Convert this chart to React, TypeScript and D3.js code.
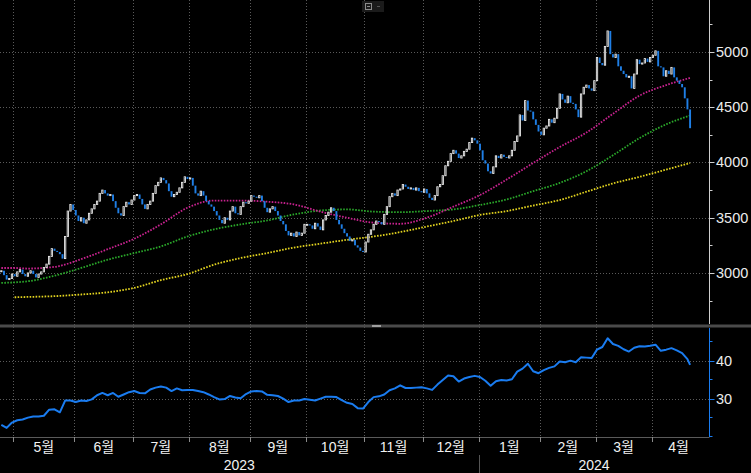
import { useEffect, useRef } from 'react'
import * as d3 from 'd3'

const W = 751
const H = 473

// daily closes, one per trading day from 2023-04-24 to 2024-04-19
const closes = [
  3020, 2980, 2940, 2950, 2990, 2970, 3010, 3030, 2990, 2970,
  3000, 3020, 2990, 2960, 2990, 3010, 3050, 3080, 3150, 3220,
  3200, 3190, 3170, 3130, 3330, 3560, 3620, 3570, 3520, 3470,
  3500, 3450, 3480, 3540, 3580, 3620, 3650, 3720, 3750, 3720,
  3700, 3710, 3650, 3590, 3540, 3520, 3600, 3640, 3620, 3660,
  3700, 3710, 3670, 3620, 3580, 3620, 3650, 3720, 3790, 3820,
  3860, 3840, 3810, 3740, 3690, 3710, 3730, 3770, 3820, 3870,
  3850, 3860, 3790, 3720, 3700, 3740, 3700, 3650, 3620, 3600,
  3560, 3520, 3480, 3450, 3500, 3480, 3560, 3600, 3540, 3530,
  3600, 3640, 3630, 3650, 3700, 3690, 3680, 3700, 3650, 3590,
  3550, 3580, 3600, 3560, 3520, 3470, 3440, 3380, 3340, 3360,
  3330, 3370, 3340, 3360, 3440, 3440, 3430, 3400, 3450, 3420,
  3390, 3480, 3520, 3550, 3590, 3560, 3480, 3440, 3400, 3360,
  3330, 3290, 3300, 3250, 3230, 3200, 3190, 3280, 3350, 3390,
  3440, 3470, 3460, 3440, 3530, 3600, 3690, 3720, 3700, 3750,
  3760, 3800, 3780, 3760, 3770, 3750, 3770, 3740, 3730, 3760,
  3720, 3680, 3660, 3700, 3780, 3800, 3880, 3970, 4010, 4080,
  4110, 4080, 4040, 4060, 4100, 4120, 4180, 4220, 4200, 4170,
  4110, 4020, 3990, 3920, 3900, 3960, 4060, 4040, 4070, 4050,
  4040, 4060, 4110, 4190, 4240, 4430, 4380, 4560, 4470, 4460,
  4390, 4340, 4280, 4250, 4310, 4330, 4390, 4360, 4400, 4490,
  4620, 4570, 4540, 4600, 4540, 4530, 4480, 4410, 4620, 4680,
  4700, 4670, 4650, 4740, 4950, 4900, 4880, 5050, 5190, 4980,
  4950, 4980, 4870, 4830, 4800, 4770, 4780, 4670, 4800, 4930,
  4890, 4900, 4940, 4910, 4950, 4970, 5010, 4870, 4860, 4780,
  4830, 4800, 4860, 4770, 4740, 4710, 4680, 4580, 4480, 4310,
]

// moving averages, read at these trading-day positions
const maDays = [0, 5, 10, 20, 30, 40, 50, 60, 70, 80, 90, 100, 110, 120, 130, 140, 150, 160, 170, 180, 190, 200, 210, 220, 230, 240, 250, 259]
const maShort = [3045, 3045, 3040, 3055, 3125, 3215, 3310, 3440, 3590, 3655, 3655, 3645, 3620, 3555, 3500, 3455, 3445, 3500, 3600, 3705, 3845, 3995, 4140, 4270, 4440, 4605, 4700, 4765]
const maMid = [2910, 2915, 2925, 2975, 3045, 3120, 3180, 3240, 3330, 3395, 3440, 3475, 3530, 3565, 3575, 3555, 3550, 3560, 3575, 3615, 3665, 3740, 3815, 3920, 4065, 4220, 4345, 4425]
const maLong = [null, 2780, 2783, 2790, 2805, 2825, 2865, 2935, 2990, 3075, 3135, 3180, 3230, 3265, 3300, 3330, 3370, 3420, 3470, 3525, 3560, 3610, 3660, 3735, 3810, 3870, 3935, 3995]

// lower panel, every second trading day (last point = last day)
const lowerValues = [
  23.2, 22.4, 23.8, 24.4, 24.6, 25.1, 25.4, 25.4, 25.6, 27.2,
  27.3, 26.5, 29.6, 29.6, 29.2, 29.6, 29.5, 29.9, 31.0, 31.6,
  31.0, 31.6, 30.6, 31.2, 31.8, 32.1, 31.6, 31.5, 32.5, 33.0,
  33.3, 33.0, 32.1, 32.8, 32.3, 32.4, 32.4, 32.1, 31.8, 31.2,
  30.5, 29.9, 30.0, 30.8, 30.4, 30.2, 31.3, 32.0, 32.1, 32.0,
  31.1, 31.0, 30.8, 30.1, 29.2, 29.6, 29.6, 30.0, 29.8, 29.6,
  30.1, 30.6, 30.6, 30.5, 29.7, 29.0, 28.7, 27.6, 27.5, 29.2,
  30.5, 30.7, 31.2, 32.3, 32.8, 33.6, 32.9, 32.9, 33.0, 33.1,
  32.8, 32.4, 33.8, 35.0, 36.2, 36.0, 34.6, 35.4, 35.8, 36.1,
  35.8, 34.8, 33.5, 34.7, 35.0, 34.9, 35.2, 37.2, 38.0, 39.3,
  37.3, 36.8, 37.6, 38.2, 38.6, 39.9, 39.7, 40.1, 39.7, 41.0,
  40.9, 40.8, 43.0, 43.7, 46.0, 44.5, 44.0, 43.1, 42.5, 43.5,
  43.9, 43.8, 44.0, 44.3, 42.7, 43.0, 43.4, 42.8, 42.1, 40.5,
  39.0,
]

const priceTicks = [3000, 3500, 4000, 4500, 5000]
const priceMinor = [2750, 3250, 3750, 4250, 4750, 5250]
const lowerTicks = [30, 40]
const lowerMinor = [20, 25, 35, 45]

const FONT = '"Liberation Sans", "Noto Sans CJK KR", sans-serif'

const App = () => {
  const ref = useRef<SVGSVGElement>(null)

  useEffect(() => {
    const svg = d3.select(ref.current)
    svg.selectAll('*').remove()

    const days = d3.timeDay
      .range(new Date(2023, 3, 24), new Date(2024, 3, 20))
      .filter(d => d.getDay() !== 0 && d.getDay() !== 6)

    const axisX = 709.5
    const x = d3.scaleLinear().domain([-0.5, days.length - 0.5 + 6.8]).range([0, axisX])
    const y = d3.scaleLinear().domain([2520, 5470]).range([326, 0])
    const y2 = d3.scaleLinear().domain([20, 48.7]).range([437, 328])

    svg.append('rect').attr('width', W).attr('height', H).attr('fill', '#000')

    const grid = svg.append('g')
      .attr('stroke', '#5a5a5a')
      .attr('stroke-dasharray', '1,2')

    const monthStarts = days.map((_, i) => i)
      .filter(i => i > 0 && days[i].getMonth() !== days[i - 1].getMonth())
    const gx = (i: number) => Math.round(x(i - 0.5)) + 0.5

    grid.selectAll('.vg').data(monthStarts).enter().append('line')
      .attr('x1', gx).attr('x2', gx).attr('y1', 0).attr('y2', 437)

    grid.selectAll('.hg').data(priceTicks).enter().append('line')
      .attr('x1', 0).attr('x2', axisX)
      .attr('y1', d => Math.round(y(d)) + 0.5).attr('y2', d => Math.round(y(d)) + 0.5)

    grid.selectAll('.hg2').data(lowerTicks).enter().append('line')
      .attr('x1', 0).attr('x2', axisX)
      .attr('y1', d => Math.round(y2(d)) + 0.5).attr('y2', d => Math.round(y2(d)) + 0.5)

    // moving averages
    const maLine = (vals: (number | null)[]) => d3.line<number>()
      .defined((_, k) => vals[k] != null)
      .x(d => x(d))
      .y((_, k) => y(vals[k] as number))
      .curve(d3.curveMonotoneX)(maDays)

    const mas: [(number | null)[], string][] = [
      [maLong, '#e2d31f'],
      [maMid, '#2aa82a'],
      [maShort, '#c8228f'],
    ]
    mas.forEach(([vals, color]) => {
      svg.append('path')
        .attr('d', maLine(vals))
        .attr('fill', 'none')
        .attr('stroke', color)
        .attr('stroke-width', 1.8)
        .attr('stroke-dasharray', '1.6,1.4')
    })

    // candles (open taken as the previous close)
    const candles = closes.map((c, i) => ({ i, o: i > 0 ? closes[i - 1] : c, c }))
    svg.append('g').selectAll('rect').data(candles).enter().append('rect')
      .attr('x', d => d.c >= d.o ? x(d.i) - 0.65 : x(d.i) - 0.95)
      .attr('width', d => d.c >= d.o ? 1.3 : 1.9)
      .attr('y', d => y(Math.max(d.o, d.c)))
      .attr('height', d => Math.max(1, Math.abs(y(d.o) - y(d.c))))
      .attr('fill', d => d.c >= d.o ? '#333' : '#1f7fe6')
      .attr('stroke', d => d.c >= d.o ? '#e8e8e8' : 'none')
      .attr('stroke-width', 0.9)

    // main axis
    svg.append('line')
      .attr('x1', axisX).attr('x2', axisX).attr('y1', 0).attr('y2', 324)
      .attr('stroke', '#cfcfcf')
    svg.selectAll('.pt').data(priceTicks).enter().append('line')
      .attr('x1', axisX).attr('x2', axisX + 5)
      .attr('y1', d => Math.round(y(d)) + 0.5).attr('y2', d => Math.round(y(d)) + 0.5)
      .attr('stroke', '#cfcfcf')
    svg.selectAll('.pm').data(priceMinor).enter().append('line')
      .attr('x1', axisX).attr('x2', axisX + 3)
      .attr('y1', d => Math.round(y(d)) + 0.5).attr('y2', d => Math.round(y(d)) + 0.5)
      .attr('stroke', '#cfcfcf')
    svg.selectAll('.pl').data(priceTicks).enter().append('text')
      .attr('x', axisX + 6.5)
      .attr('y', d => y(d) + 5)
      .attr('fill', '#ececec')
      .style('font-family', FONT)
      .style('font-size', '14.5px')
      .text(d => d)

    // separator between panels
    svg.append('rect').attr('x', 0).attr('y', 324.5).attr('width', W).attr('height', 3).attr('fill', '#4a4a4a')
    svg.append('rect').attr('x', 372).attr('y', 325).attr('width', 9).attr('height', 2).attr('fill', '#a0a0a0')

    // lower line
    const lowerIdx = lowerValues.map((_, k) => Math.min(2 * k, days.length - 1))
    svg.append('path')
      .attr('d', d3.line<number>()
        .x((_, k) => x(lowerIdx[k]))
        .y(d => y2(d))(lowerValues))
      .attr('fill', 'none')
      .attr('stroke', '#1a7cf0')
      .attr('stroke-width', 2)
      .attr('stroke-linejoin', 'round')

    // lower axis
    const blue = '#1a7cf0'
    svg.append('line')
      .attr('x1', axisX).attr('x2', axisX).attr('y1', 328).attr('y2', 437)
      .attr('stroke', blue)
    svg.selectAll('.lt').data(lowerTicks).enter().append('line')
      .attr('x1', axisX).attr('x2', axisX + 5)
      .attr('y1', d => Math.round(y2(d)) + 0.5).attr('y2', d => Math.round(y2(d)) + 0.5)
      .attr('stroke', blue)
    svg.selectAll('.lm').data(lowerMinor).enter().append('line')
      .attr('x1', axisX).attr('x2', axisX + 3)
      .attr('y1', d => Math.round(y2(d)) - 0.5).attr('y2', d => Math.round(y2(d)) - 0.5)
      .attr('stroke', blue)
    svg.selectAll('.ll').data(lowerTicks).enter().append('text')
      .attr('x', axisX + 6.5)
      .attr('y', d => y2(d) + 5)
      .attr('fill', '#ececec')
      .style('font-family', FONT)
      .style('font-size', '14.5px')
      .text(d => d)

    // time axis
    svg.append('line')
      .attr('x1', 0).attr('x2', axisX).attr('y1', 437.5).attr('y2', 437.5)
      .attr('stroke', '#5a5a5a')
    svg.selectAll('.mt').data(monthStarts).enter().append('line')
      .attr('x1', gx).attr('x2', gx).attr('y1', 437).attr('y2', 442)
      .attr('stroke', '#8a8a8a')

    const rightEnd = axisX - 4
    svg.selectAll('.ml').data(monthStarts).enter().append('text')
      .attr('x', (d, k) => {
        const next = k + 1 < monthStarts.length ? x(monthStarts[k + 1] - 0.5) : rightEnd
        return (x(d - 0.5) + next) / 2
      })
      .attr('y', 452)
      .attr('text-anchor', 'middle')
      .attr('fill', '#f2f2f2')
      .style('font-family', FONT)
      .style('font-size', '14px')
      .text(d => `${days[d].getMonth() + 1}월`)

    const janIdx = monthStarts.find(i => days[i].getMonth() === 0) as number
    const yearX = x(janIdx - 0.5)
    svg.append('line')
      .attr('x1', Math.round(yearX) + 0.5).attr('x2', Math.round(yearX) + 0.5)
      .attr('y1', 455).attr('y2', H)
      .attr('stroke', '#555')
    const years = [
      { label: String(days[0].getFullYear()), cx: yearX / 2 },
      { label: String(days[janIdx].getFullYear()), cx: (yearX + axisX) / 2 },
    ]
    svg.selectAll('.yl').data(years).enter().append('text')
      .attr('x', d => d.cx)
      .attr('y', 470)
      .attr('text-anchor', 'middle')
      .attr('fill', '#f2f2f2')
      .style('font-family', FONT)
      .style('font-size', '14px')
      .text(d => d.label)

    // small toolbar icon at the top
    const icon = svg.append('g')
    icon.append('rect').attr('x', 362).attr('y', 1).attr('width', 22).attr('height', 11).attr('fill', '#1b1b1b')
    icon.append('rect').attr('x', 365.5).attr('y', 3.5).attr('width', 6).attr('height', 6)
      .attr('fill', 'none').attr('stroke', '#8c8c8c')
    icon.append('line').attr('x1', 367).attr('x2', 370).attr('y1', 6.5).attr('y2', 6.5).attr('stroke', '#8c8c8c')
    icon.append('line').attr('x1', 377).attr('x2', 380).attr('y1', 6.5).attr('y2', 6.5).attr('stroke', '#555')
  }, [])

  return (
    <svg
      ref={ref}
      width={W}
      height={H}
      style={{ position: 'fixed', left: 0, top: 0, display: 'block' }}
    />
  )
}

export default App
